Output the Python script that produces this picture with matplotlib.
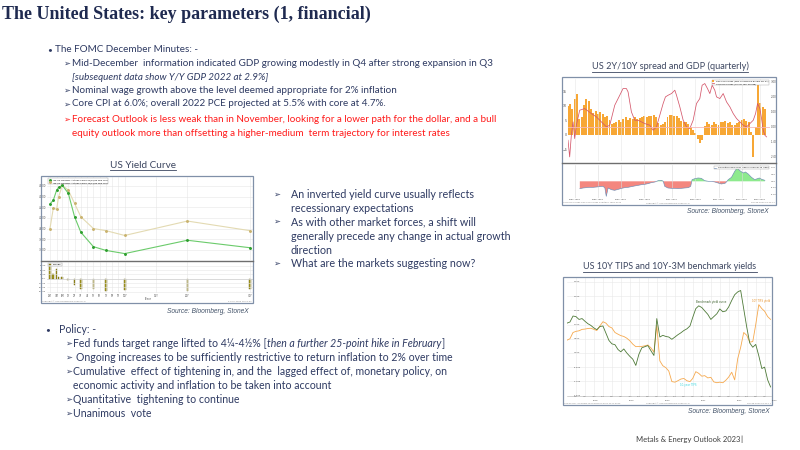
import numpy as np
import pandas as pd
import matplotlib
matplotlib.use('Agg')
import matplotlib.pyplot as plt
import matplotlib.dates as mdates
from matplotlib.lines import Line2D
from matplotlib.patches import Rectangle

W, H = 800, 450
BODY = ['Lato', 'DejaVu Sans']
NAVY = '#1F2A50'
INK = '#2E3A62'
RED = '#FF1A1A'
SRC = '#44546A'
FRAME = '#8090A8'

# ---- US yield curve (left chart) ----
TENORS = ['1M', '2M', '3M', '4M', '6M', '1Y', '2Y', '3Y', '5Y', '7Y', '10Y', '20Y', '30Y']
TENOR_YRS = [1/12, 2/12, 0.25, 4/12, 0.5, 1, 2, 3, 5, 7, 10, 20, 30]
CURVE_NOW = [4.46, 4.53, 4.72, 4.77, 4.81, 4.66, 4.22, 3.93, 3.66, 3.59, 3.53, 3.78, 3.64]
CURVE_PREV = [4.00, 4.38, 4.36, 4.59, 4.81, 4.72, 4.47, 4.22, 4.00, 3.96, 3.87, 4.14, 3.96]
CURVE_CHG_BP = [32, 11, 23, 4, 4, -4, -15, -23, -25, -28, -26, -28, -25]
YC_TICK_LABELS = ['1M', '3M', '6M', '1Y', '2Y', '3Y', '4Y', '5Y', '6Y', '7Y', '8Y', '9Y', '10Y', '15Y', '20Y', '30Y']
YC_TICK_YRS = [1/12, 0.25, 0.5, 1, 2, 3, 4, 5, 6, 7, 8, 9, 10, 15, 20, 30]

# ---- US 2Y/10Y spread and GDP (quarterly) ----
GDP_YEARS = np.arange(1980.5, 2023.5, 0.5)
GDP_YOY = [10.0,
           10.5, 9.0, 12.4, 14.0, 5.5, 6.0, 10.1, 12.4, 11.5, 9.0,
           7.5, 8.0, 7.2, 7.8, 7.0, 6.2, 6.5, 5.0, 3.6, 4.0,
           4.4, 4.9, 4.4, 5.5, 6.0, 5.0, 5.8, 5.5, 6.2, 5.5,
           5.8, 6.1, 6.5, 6.2, 6.5, 6.3, 6.9, 6.0, 4.0, 3.2,
           3.8, 4.5, 6.0, 6.9, 6.7, 6.5, 6.6, 5.8, 4.8, 4.5,
           4.5, 3.5, 2.8, 1.5, 0.5, -1.5, -3.0, -2.0, 3.0, 4.4,
           3.8, 3.4, 4.4, 3.8, 3.4, 4.2, 4.4, 4.6, 4.1, 4.4,
           3.3, 3.4, 4.0, 4.4, 4.9, 5.5, 4.7, 4.2, 1.0, -7.7,
           2.5, 17.6, 11.0, 9.5,
           9.0]
SPREAD_YEARS = [1980.55, 1980.91, 1981.27, 1981.63, 1981.99, 1982.35, 1983.07, 1984.15, 1985.59, 1986.67,
                1987.75, 1988.83, 1989.55, 1990.63, 1991.71, 1992.42, 1993.14, 1993.5, 1993.86, 1994.22,
                1994.94, 1995.66, 1996.38, 1997.1, 1998.18, 1998.9, 1999.62, 2000.34, 2001.06, 2001.56,
                2002.14, 2002.86, 2003.58, 2003.94, 2004.66, 2005.38, 2006.1, 2006.81, 2007.53, 2007.89,
                2008.25, 2008.97, 2009.47, 2010.04, 2010.62, 2011.13, 2011.63, 2012.2, 2012.57, 2013.29,
                2014.01, 2014.73, 2015.45, 2016.17, 2016.89, 2017.61, 2018.33, 2019.05, 2019.77, 2020.49,
                2020.99, 2021.42, 2021.92, 2022.28, 2022.64, 2023.0, 2023.36]
SPREAD_2S10S = [-0.90, -2.00, -0.57, 0.31, -0.79, 0.09, 1.08, 1.19, 0.86, 0.64,
                0.31, -0.02, 0.09, 1.41, 2.07, 2.51, 2.51, 2.29, 1.63, 0.97,
                0.42, 0.42, 0.31, 0.20, 0.09, -0.24, -0.02, 0.75, 1.52, 1.96,
                2.07, 2.18, 2.40, 2.07, 1.30, 0.42, -0.02, -0.13, 0.42, 0.97,
                1.52, 1.85, 2.73, 2.84, 2.51, 2.18, 2.73, 2.40, 1.96, 1.85,
                2.18, 1.63, 1.30, 0.86, 0.53, 0.31, 0.09, -0.02, 0.20, 0.42,
                0.86, 1.52, 1.19, 0.53, -0.24, -0.57, -0.68]
DIFF_YEARS = [1983.1, 1983.8, 1984.5, 1985.2, 1986.0, 1986.7, 1987.4, 1988.1, 1988.5, 1988.8,
              1989.2, 1989.9, 1990.6, 1991.4, 1992.1, 1992.8, 1993.5, 1994.2, 1994.9, 1995.7,
              1996.4, 1997.1, 1997.8, 1998.5, 1999.3, 2000.0, 2000.7, 2001.1, 2001.4, 2002.1,
              2002.9, 2003.6, 2004.3, 2005.0, 2005.7, 2006.5, 2007.0, 2007.3, 2007.9, 2008.6,
              2009.3, 2010.0, 2010.8, 2011.5, 2012.2, 2012.9, 2013.6, 2014.4, 2014.7, 2015.1,
              2015.8, 2016.5, 2017.0, 2017.6, 2018.3, 2018.8, 2019.4, 2020.1, 2020.8, 2021.4,
              2021.8, 2022.3, 2023.0]
DIFF_VALS = [-0.22, -0.20, -0.19, -0.18, -0.18, -0.17, -0.16, -0.15, -0.20, -0.45,
             -0.20, -0.25, -0.27, -0.24, -0.21, -0.19, -0.18, -0.16, -0.14, -0.12,
             -0.10, -0.09, -0.07, -0.04, -0.02, 0.02, 0.03, 0.0, -0.15, -0.20,
             -0.21, -0.21, -0.22, -0.21, -0.20, -0.19, -0.15, 0.05, 0.08, 0.10,
             0.09, 0.02, 0.0, 0.0, -0.02, -0.05, -0.08, -0.06, -0.02, 0.05,
             0.12, 0.30, 0.40, 0.32, 0.25, 0.28, 0.22, 0.12, 0.05, 0.08,
             0.10, 0.06, 0.03]
SPREAD_XTICKS = [1982, 1987, 1992, 1997, 2003, 2008, 2013, 2018, 2022]

# ---- US 10Y TIPS and 10Y-3M benchmark yields (monthly) ----
TIPS_DATES = pd.date_range('2017-09-01', periods=69, freq='MS')
TIPS_10Y = [0.45, 0.50, 0.72, 0.76, 0.78, 0.83, 0.84, 0.86, 0.87, 0.83,
            0.79, 0.95, 1.10, 1.05, 0.93, 0.88, 0.72, 0.66, 0.61, 0.58,
            0.52, 0.43, 0.31, 0.22, 0.23, 0.23, 0.25, 0.28, 0.18, 0.03,
            0.97, -0.28, -0.45, -0.52, -0.64, -1.01, -1.03, -0.98, -0.92, -0.90,
            -0.98, -1.01, -0.90, -0.66, -0.72, -0.82, -0.80, -0.88, -0.86, -1.02,
            -1.05, -1.03, -1.05, -0.96, -0.85, -0.68, -0.95, -0.20, 0.20, 0.72,
            0.62, 0.38, 0.40, 1.00, 1.70, 1.56, 1.47, 1.28, 1.18]
BENCH_10Y3M = [1.05, 1.09, 1.30, 1.28, 1.18, 1.21, 1.12, 1.03, 0.97, 0.88,
               0.82, 0.93, 0.95, 0.70, 0.44, 0.32, 0.29, 0.12, 0.04, 0.14,
               0.00, -0.12, -0.22, -0.44, -0.05, 0.18, 0.22, 0.26, 0.08, -0.09,
               1.21, 0.56, 0.62, 0.58, 0.56, 0.48, 0.56, 0.64, 0.71, 0.79,
               0.85, 0.95, 1.25, 1.56, 1.66, 1.60, 1.48, 1.36, 1.18, 1.28,
               1.38, 1.55, 1.45, 1.48, 1.62, 1.85, 2.05, 2.15, 2.20, 1.55,
               0.90, 0.35, 0.20, 0.30, -0.10, -0.55, -0.50, -0.95, -1.20]

fig = plt.figure(figsize=(W / 100, H / 100), dpi=100)
fig.patch.set_facecolor('white')
R = fig.canvas.get_renderer()


def fx(x):
    return x / W


def fy(y):
    return 1 - y / H


def fit_size(s, width_px, **kw):
    # font size that makes string s span width_px pixels
    kw.setdefault('family', BODY)
    t = fig.text(0, 0, s, fontsize=10, **kw)
    w = t.get_window_extent(renderer=R).width
    t.remove()
    return 10 * width_px / w


def put(x, y, s, size, color=INK, ha='left', **kw):
    kw.setdefault('family', BODY)
    return fig.text(fx(x), fy(y), s, fontsize=size, color=color, ha=ha, va='center', **kw)


def runs(x, y, parts, size, color=INK):
    for s, style in parts:
        t = put(x, y, s, size, color, style=style)
        x += t.get_window_extent(renderer=R).width


def arrow(x, y, color=INK):
    put(x, y, '\u27a2', 6.0, color, family=['DejaVu Sans'])


def underlined(xc, y, s, width_px, color):
    size = fit_size(s, width_px)
    t = put(xc, y, s, size, color, ha='center')
    bb = t.get_window_extent(renderer=R)
    yy = (bb.y0 - 0.8) / H
    fig.add_artist(Line2D([bb.x0 / W, bb.x1 / W], [yy, yy], lw=0.6, color=color))


def box(x0, y0, x1, y1, ec=FRAME, lw=0.9):
    fig.add_artist(Rectangle((fx(x0), fy(y1)), (x1 - x0) / W, (y1 - y0) / H,
                             transform=fig.transFigure, fill=False, ec=ec, lw=lw))


def hline(x0, x1, y, color='#6E6E6E', lw=1.0):
    fig.add_artist(Line2D([fx(x0), fx(x1)], [fy(y), fy(y)], lw=lw, color=color))


def panel(x0, y0, x1, y1):
    ax = fig.add_axes([x0 / W, 1 - y1 / H, (x1 - x0) / W, (y1 - y0) / H])
    for s in ax.spines.values():
        s.set_visible(False)
    ax.tick_params(labelsize=2.3, length=0, pad=0.8, colors='#505050')
    return ax


def tiny(x, y, s, ha='left', color='#808080', size=1.5):
    put(x, y, s, size, color, ha=ha, family=['DejaVu Sans'])


# ---------------- slide text ----------------
TITLE = 'The United States: key parameters (1, financial)'
tsize = fit_size(TITLE, 371, family='Liberation Serif', weight='bold')
fig.text(fx(1.7), fy(14), TITLE, family='Liberation Serif', weight='bold', fontsize=tsize,
         color=NAVY, ha='left', va='center')

S1 = fit_size('Mid-December  information indicated GDP growing modestly in Q4 after strong expansion in Q3', 420)
S2 = fit_size('generally precede any change in actual growth', 218.7)
S3 = fit_size('Ongoing increases to be sufficiently restrictive to return inflation to 2% over time', 376.7)

put(47.5, 49.3, '\u2022', 6)
put(55, 49.3, 'The FOMC December Minutes: -', S1)
arrow(62.7, 63.3)
put(71.7, 63.3, 'Mid-December  information indicated GDP growing modestly in Q4 after strong expansion in Q3', S1)
put(71.7, 77, '[subsequent data show Y/Y GDP 2022 at 2.9%]', S1, style='italic')
arrow(62.7, 90.7)
put(71.7, 90.7, 'Nominal wage growth above the level deemed appropriate for 2% inflation', S1)
arrow(62.7, 104)
put(71.7, 104, 'Core CPI at 6.0%; overall 2022 PCE projected at 5.5% with core at 4.7%.', S1)
arrow(62.7, 119.3, RED)
put(71.7, 119.3, 'Forecast Outlook is less weak than in November, looking for a lower path for the dollar, and a bull',
    S1, color=RED)
put(71.7, 133.3, 'equity outlook more than offsetting a higher-medium  term trajectory for interest rates', S1,
    color=RED)

arrow(273.3, 194.5)
put(290.7, 194.5, 'An inverted yield curve usually reflects', S2)
put(290.7, 208.3, 'recessionary expectations', S2)
arrow(273.3, 221.7)
put(290.7, 221.7, 'As with other market forces, a shift will', S2)
put(290.7, 236, 'generally precede any change in actual growth', S2)
put(290.7, 250, 'direction', S2)
arrow(273.3, 263.3)
put(290.7, 263.3, 'What are the markets suggesting now?', S2)

put(45.5, 329.3, '\u2022', 6)
put(59.3, 329.3, 'Policy: -', S3)
arrow(65, 343.3)
runs(73.3, 343.3, [('Fed funds target range lifted to 4\u00bc-4\u00bd% [', 'normal'),
                   ('then a further 25-point hike in February', 'italic'), (']', 'normal')], S3)
arrow(65, 357.3)
put(76, 357.3, 'Ongoing increases to be sufficiently restrictive to return inflation to 2% over time', S3)
arrow(65, 371.7)
put(73.3, 371.7, 'Cumulative  effect of tightening in, and the  lagged effect of, monetary policy, on', S3)
put(73.3, 385.3, 'economic activity and inflation to be taken into account', S3)
arrow(65, 399.3)
put(73.3, 399.3, 'Quantitative  tightening to continue', S3)
arrow(65, 413.3)
put(73.3, 413.3, 'Unanimous  vote', S3)

FOOT = 'Metals & Energy Outlook 2023'
put(636, 439.3, FOOT, fit_size(FOOT, 104), '#404040')
put(740.5, 439.3, '|', 6, '#404040')

# ---------------- chart titles / sources ----------------
underlined(143, 165, 'US Yield Curve', 66, '#3C4660')
underlined(670, 66.7, 'US 2Y/10Y spread and GDP (quarterly)', 157, '#3C4660')
underlined(670, 266.7, 'US 10Y TIPS and 10Y-3M benchmark yields', 173, '#3C4660')
SRC_TXT = 'Source: Bloomberg, StoneX'
ssize = fit_size(SRC_TXT, 82, family=['Liberation Sans'], style='italic')
for xs, ys in [(248.5, 311.7), (768.3, 211.5), (769.3, 411.5)]:
    put(xs, ys, SRC_TXT, ssize, SRC, ha='right', style='italic', family=['Liberation Sans'])

# ---------------- yield curve chart ----------------
ANCH_YRS = [1/12, 0.25, 0.5, 1, 30]
ANCH_POS = [60, 80, 97, 115, 660]


def tenor_pos(yrs):
    return np.interp(yrs, ANCH_YRS, ANCH_POS)


box(41, 176, 253.3, 303)
ax = panel(47.3, 177.3, 252.7, 260)
tx = tenor_pos(TENOR_YRS)
ax.plot(tx, CURVE_PREV, color='#E3DAB2', lw=0.8, marker='o', ms=1.1, mfc='#C9B26E', mec='#C9B26E',
        label='I25 US Treasury Actives Curve 12/14/22 Mid YTM')
ax.plot(tx, CURVE_NOW, color='#6BCB6B', lw=0.8, marker='o', ms=1.1, mfc='#2E9E2E', mec='#2E9E2E',
        label='I25 US Treasury Actives Curve 01/31/23 Mid YTM')
ax.set_xlim(52, 668)
ax.set_ylim(3.41, 4.96)
ax.set_xticks(tenor_pos(YC_TICK_YRS))
ax.set_xticklabels([])
ax.set_yticks(np.arange(3.6, 4.81, 0.2))
ax.set_yticklabels(['%.3f' % v for v in np.arange(3.6, 4.81, 0.2)])
ax.tick_params(axis='y', labelsize=1.9)
ax.grid(color='#E6E6E6', lw=0.4)
h, l = ax.get_legend_handles_labels()
ax.legend(h[::-1], l[::-1], loc='upper left', fontsize=1.6, frameon=True, borderpad=0.3, handlelength=1,
          labelspacing=0.2, framealpha=1, edgecolor='#A0A0A0', fancybox=False).get_frame().set_linewidth(0.3)

hline(41, 253.3, 261)
ax2 = panel(47.3, 262, 252.7, 293.3)
ax2.bar(tx, CURVE_CHG_BP, width=5, color='#A59A1E', edgecolor='#6A6010', lw=0.3, label='Change')
ax2.set_xlim(52, 668)
ax2.set_ylim(-34, 39)
ax2.set_yticks([-30, -20, -10, 0, 10, 20, 30])
ax2.set_yticklabels(['%.2f' % v for v in [-30, -20, -10, 0, 10, 20, 30]])
ax2.tick_params(axis='y', labelsize=1.6)
ax2.set_xticks(tenor_pos(YC_TICK_YRS))
ax2.set_xticklabels(YC_TICK_LABELS)
ax2.tick_params(axis='x', labelsize=1.8, pad=0.6)
ax2.grid(color='#E6E6E6', lw=0.4)
ax2.axhline(0, color='#C8C8C8', lw=0.4)
ax2.legend(loc='upper left', fontsize=1.6, frameon=True, borderpad=0.3, handlelength=1, framealpha=1,
           edgecolor='#A0A0A0', fancybox=False).get_frame().set_linewidth(0.3)
put(147, 298.5, 'Tenor', 1.8, '#505050', ha='center', family=['DejaVu Sans'])
tiny(42.5, 301.5, 'Copyright\u00a9 2023 Bloomberg Finance L.P.')
tiny(252, 301.5, '31-Jan-2023 10:21:04', ha='right')

# ---------------- 2Y/10Y spread and GDP chart ----------------
box(562, 77, 776.3, 205)
ax = panel(568, 78.7, 770, 161.3)
ax.bar(GDP_YEARS, GDP_YOY, width=0.42, color='#F7A735', lw=0, label='GDP CURY Index (GDP US Nominal dollars YoY SA)')
ax.set_xlim(1980.55, 2024.1)
ax.set_ylim(-9.2, 19.3)
ax.set_yticks([-5, 0, 5, 10, 15])
ax.set_xticks(SPREAD_XTICKS)
ax.set_xticklabels([])
ax.grid(axis='x', color='#E6E6E6', lw=0.4)
ax.tick_params(axis='y', pad=0.5)
axr = ax.twinx()
for s in axr.spines.values():
    s.set_visible(False)
axr.plot(SPREAD_YEARS, SPREAD_2S10S, color='#D4566A', lw=0.55, label='USYC2Y10 Index (US 2yr-10yr spread)')
axr.axhline(0, color='#F6B8B8', lw=0.6)
axr.set_ylim(-2.29, 3.16)
axr.set_yticks([-2, -1, 0, 1, 2, 3])
axr.set_yticklabels(['%.2f' % v for v in [-2, -1, 0, 1, 2, 3]])
axr.tick_params(labelsize=1.9, length=0, pad=0.5, colors='#505050')
hb, lb = ax.get_legend_handles_labels()
hr, lr = axr.get_legend_handles_labels()
axr.legend(hb + hr, lb + lr, loc='upper right', fontsize=1.5, frameon=True, borderpad=0.3, handlelength=0.8,
           labelspacing=0.2, framealpha=1, edgecolor='#A0A0A0', fancybox=False).get_frame().set_linewidth(0.3)

hline(562, 776.3, 163)
ax2 = panel(568, 165.3, 770, 198)
dv = np.array(DIFF_VALS)
ax2.fill_between(DIFF_YEARS, dv, 0, where=dv <= 0, interpolate=True, color='#F4877F', lw=0)
ax2.fill_between(DIFF_YEARS, dv, 0, where=dv >= 0, interpolate=True, color='#8EEA8E', lw=0)
ax2.plot(DIFF_YEARS, DIFF_VALS, color='#6F8DB5', lw=0.45, label='Correlation GDP CURY Index vs USYC2Y10 Index')
ax2.set_xlim(1980.55, 2024.1)
ax2.set_ylim(-0.5, 0.48)
ax2.yaxis.tick_right()
ax2.set_yticks([-0.4, -0.2, 0, 0.2, 0.4])
ax2.set_yticklabels(['%.2f' % v for v in [-0.4, -0.2, 0, 0.2, 0.4]])
ax2.tick_params(axis='y', pad=0.5, labelsize=1.6)
ax2.set_xticks(SPREAD_XTICKS)
ax2.set_xticklabels(['%d-%d' % (y - 2, y + 2) for y in SPREAD_XTICKS])
ax2.tick_params(axis='x', labelsize=1.6, pad=0.5)
ax2.grid(axis='x', color='#DADADA', lw=0.4)
ax2.legend(loc='upper right', fontsize=1.5, frameon=True, borderpad=0.3, handlelength=0.8, framealpha=1,
           edgecolor='#A0A0A0', fancybox=False).get_frame().set_linewidth(0.3)
tiny(563, 202.8, 'USYC2Y10 Index GDP CURY Index Quarterly 1980-2022')
tiny(668, 202.8, 'Copyright\u00a9 2023 Bloomberg Finance L.P.', ha='center')
tiny(775, 202.8, '03-Feb-2023 09:14:27', ha='right')

# ---------------- TIPS vs benchmark chart ----------------
box(563, 276.5, 772.3, 405)
ax = panel(567, 278, 771, 395.5)
ax.plot(TIPS_DATES, TIPS_10Y, color='#F6A94E', lw=0.6)
ax.plot(TIPS_DATES, BENCH_10Y3M, color='#4E7A38', lw=0.6)
ax.set_xlim(pd.Timestamp('2017-09-01'), pd.Timestamp('2023-05-05'))
ax.set_ylim(-1.5, 2.64)
ax.set_yticks(np.arange(-1.5, 2.51, 0.5))
ax.set_yticklabels(['%.3f' % v for v in np.arange(-1.5, 2.51, 0.5)])
ax.tick_params(axis='y', labelsize=1.6, pad=-5)
for lab in ax.get_yticklabels():
    lab.set_horizontalalignment('left')
qt = pd.date_range('2017-12-01', '2023-03-01', freq='3MS')
ax.set_xticks(qt)
ax.set_xticklabels([d.strftime('%b') for d in qt])
ax.tick_params(axis='x', labelsize=1.5, pad=0.4)
ax.grid(color='#E8E8E8', lw=0.4)
ax.spines['bottom'].set_visible(True)
ax.spines['bottom'].set_color('#B0B0B0')
ax.spines['bottom'].set_linewidth(0.4)
for yr in range(2018, 2024):
    xd = ax.transData.transform((mdates.date2num(pd.Timestamp('%d-06-15' % yr)), 0))[0]
    tiny(xd, 400.3, str(yr), ha='center', color='#505050')
ax.text(pd.Timestamp('2021-09-01'), 1.75, 'Benchmark yield curve', fontsize=1.9, color='#3A5F2A', ha='center')
ax.text(pd.Timestamp('2023-01-20'), 1.8, '10Y TIPS yield', fontsize=1.9, color='#E8942E', ha='center')
ax.text(pd.Timestamp('2021-01-15'), -1.18, '10-year TIPS', fontsize=1.9, color='#3FD8E0', ha='center')
tiny(564, 403.2, 'USGG10YR - USGG3M vs USGGT10Y Daily 2017-2023')
tiny(668, 403.2, 'Copyright\u00a9 2023 Bloomberg Finance L.P.', ha='center')
tiny(771, 403.2, '03-Feb-2023 09:20:11', ha='right')

fig.savefig('out.png', dpi=100, facecolor='white')
